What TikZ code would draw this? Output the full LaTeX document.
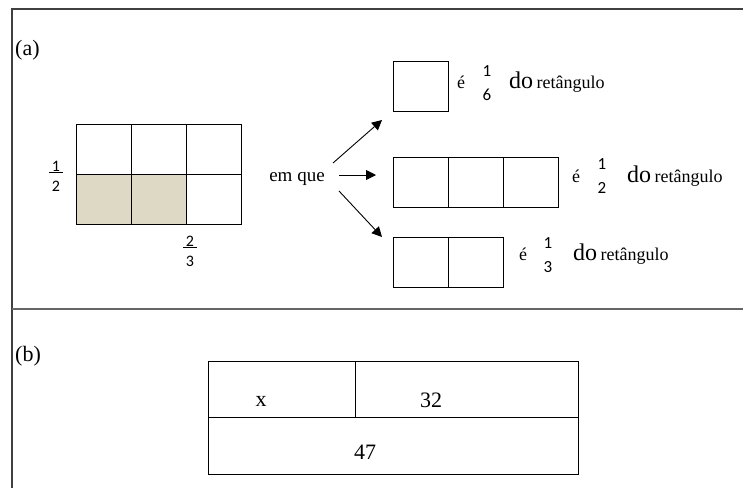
\documentclass[tikz,border=0pt]{standalone}
\usepackage{fontspec}
\setmainfont{Liberation Serif}
\newfontfamily\fracfont{Carlito}
\usetikzlibrary{positioning,arrows.meta}

\definecolor{sand}{HTML}{DDD9C4}
% stacked fraction without bar / with bar
\newcommand{\fr}[2]{\begin{tabular}{@{}c@{}}#1\\#2\end{tabular}}
\newcommand{\frb}[2]{\begin{tabular}{@{}c@{}}\underline{\,#1\,}\\#2\end{tabular}}

\tikzset{
  cell/.style={draw, line width=1pt, minimum width=55pt, minimum height=50pt, inner sep=0pt, outer sep=0pt},
  shaded/.style={cell, fill=sand},
  partlabel/.style={font=\fontsize{22}{22}\selectfont, inner sep=0pt},
  fracnode/.style={font=\fracfont\fontsize{17}{24}\selectfont, inner sep=0pt},
  sidefrac/.style={font=\fracfont\fontsize{16}{20}\selectfont, inner sep=0pt},
  acute/.style={font=\fontsize{18}{18}\selectfont, inner sep=0pt, anchor=base},
  dotext/.style={font=\fontsize{24}{24}\selectfont, inner sep=0pt, anchor=base west},
  rettext/.style={font=\fontsize{18}{18}\selectfont, inner sep=0pt, anchor=base west},
  val/.style={font=\fontsize{22}{22}\selectfont, inner sep=0pt},
  conn/.style={-{Triangle[length=10pt,width=10pt]}, line width=0.9pt},
}

\begin{document}
\begin{tikzpicture}[x=1pt,y=-1pt]
    \useasboundingbox (0,0) rectangle (743,488);
    % frame
    \draw[line width=1.6pt, black!75] (743,9) -- (12,9) -- (12,488);
    \draw[line width=1.6pt, black!60] (12,309) -- (743,309);
    \node[partlabel, anchor=west] (capa) at (15,50) {(a)};
    \node[partlabel, anchor=west] (capb) at (15,356) {(b)};

    % big rectangle
    \foreach \i in {0,1,2} {
        \node[cell] (t\i) at (103.5+55*\i,149) {};
    }
    \node[shaded] (b0) at (103.5,199) {};
    \node[shaded] (b1) at (158.5,199) {};
    \node[cell] (b2) at (213.5,199) {};
    \node[sidefrac] (half) at (56,177) {\frb{1}{2}};
    \node[sidefrac] (twothirds) at (190,252) {\frb{2}{3}};

    \node[font=\fontsize{19}{19}\selectfont, inner sep=0pt, anchor=base] (emque) at (297,181) {em que};

    % parts
    \node[cell] (p1) at (420.5,86) {};
    \foreach \i in {0,1,2} {
        \node[cell] (m\i) at (420.5+55*\i,182) {};
    }
    \node[cell] (q0) at (420.5,262) {};
    \node[cell] (q1) at (475.5,262) {};

    \node[acute] (e1) at (461,88) {é};
    \node[fracnode] (f1) at (487,84) {\fr{1}{6}};
    \node[dotext] (do1) at (509,88) {do};
    \node[rettext, right=3pt of do1.base east, anchor=base west] (r1) {retângulo};

    \node[acute] (e2) at (576,182) {é};
    \node[fracnode] (f2) at (602,177) {\fr{1}{2}};
    \node[dotext] (do2) at (627,182) {do};
    \node[rettext, right=3pt of do2.base east, anchor=base west] (r2) {retângulo};

    \node[acute] (e3) at (523,260) {é};
    \node[fracnode] (f3) at (548,256) {\fr{1}{3}};
    \node[dotext] (do3) at (573,260) {do};
    \node[rettext, right=3pt of do3.base east, anchor=base west] (r3) {retângulo};

    % arrows
    \coordinate (s1) at (333,163);
    \coordinate (s2) at (339,175);
    \coordinate (s3) at (339,191);
    \coordinate (t1) at (382,120);
    \coordinate (t2) at (376,175);
    \coordinate (t3) at (382,237);
    \draw[conn] (s1) -- (t1);
    \draw[conn] (s2) -- (t2);
    \draw[conn] (s3) -- (t3);

    % table (b)
    \node[draw, line width=1pt, minimum width=147pt, minimum height=56pt, inner sep=0pt] (cx) at (281.5,389) {};
    \node[draw, line width=1pt, minimum width=223pt, minimum height=56pt, inner sep=0pt] (c32) at (466.5,389) {};
    \node[draw, line width=1pt, minimum width=370pt, minimum height=57pt, inner sep=0pt] (c47) at (393,445.5) {};
    \node[val] (vx) at (261,401) {x};
    \node[val] (v32) at (431,400) {32};
    \node[val] (v47) at (365,452) {47};
\end{tikzpicture}
\end{document}
